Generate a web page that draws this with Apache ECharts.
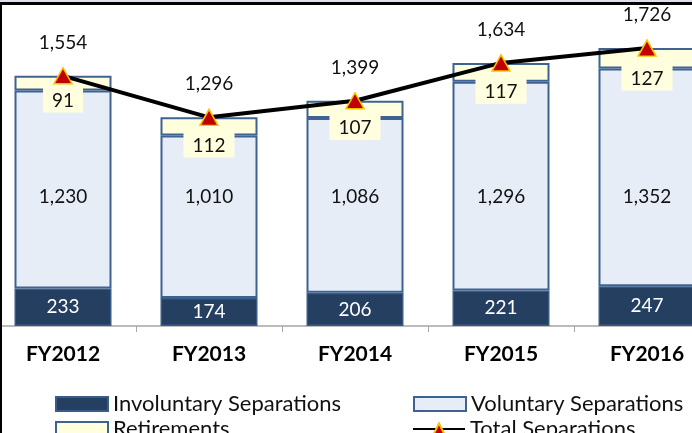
<!DOCTYPE html>
<html>
<head>
<meta charset="utf-8">
<script src="https://cdn.jsdelivr.net/npm/echarts@6/dist/echarts.min.js"></script>
<style>
html,body{margin:0;padding:0;background:#fff;overflow:hidden;width:692px;height:433px;position:relative;}
#c{width:740px;height:433px;position:absolute;left:-10px;top:0;}
</style>
</head>
<body>
<div id="c"></div>
<script>
const categories = ['FY2012', 'FY2013', 'FY2014', 'FY2015', 'FY2016'];
const involuntary = [233, 174, 206, 221, 247];
const voluntary = [1230, 1010, 1086, 1296, 1352];
const retirements = [91, 112, 107, 117, 127];
const totals = [1554, 1296, 1399, 1634, 1726];
const volLabelLevel = 805;

const fmt = v => Number(v).toLocaleString('en-US');
const FONT = 'Lato';
const SHIFT = 10; // container is shifted 10px to the left of the page
const chart = echarts.init(document.getElementById('c'), null, {renderer: 'canvas'});

const legendText = {fontFamily: FONT, fontSize: 22, color: '#111'};
function legendAt(name, x, y, icon) {
  const l = {
    orient: 'horizontal', left: x + SHIFT, top: y, itemWidth: 52, itemHeight: 14,
    textStyle: legendText, data: [name]
  };
  if (icon) l.icon = icon;
  return l;
}

const option = {
  animation: false,
  backgroundColor: '#ffffff',
  textStyle: {fontFamily: FONT},
  graphic: [
    {type: 'rect', shape: {x: SHIFT, y: 0, width: 692, height: 2}, style: {fill: '#dde0e8'}, silent: true, z: 100},
    {type: 'rect', shape: {x: SHIFT, y: 2, width: 692, height: 3}, style: {fill: '#000'}, silent: true, z: 100},
    {type: 'rect', shape: {x: SHIFT, y: 2, width: 2, height: 431}, style: {fill: '#000'}, silent: true, z: 100}
  ],
  grid: {left: 0, right: 10, top: 4, bottom: 107, containLabel: false},
  xAxis: {
    type: 'category',
    data: categories,
    axisLine: {lineStyle: {color: '#a6a6a6', width: 1.5}},
    axisTick: {show: true, length: 6, lineStyle: {color: '#a6a6a6'}},
    axisLabel: {fontFamily: FONT, fontSize: 21, fontWeight: 'bold', color: '#000', margin: 18}
  },
  yAxis: {type: 'value', min: 0, max: 2000, show: false, splitLine: {show: false}},
  legend: [
    legendAt('Involuntary Separations', 50, 388, 'rect'),
    legendAt('Retirements', 50, 413, 'rect'),
    legendAt('Voluntary Separations', 408, 388, 'rect'),
    legendAt('Total Separations', 407, 413)
  ],
  series: [
    {
      id: 'inv', name: 'Involuntary Separations', type: 'bar', stack: 's', barWidth: 97,
      data: involuntary,
      itemStyle: {color: '#243F60', borderColor: '#385D8A', borderWidth: 1.5},
      label: {show: true, position: 'inside', color: '#fff', fontFamily: FONT, fontSize: 19, formatter: p => fmt(p.value)}
    },
    {
      id: 'vol', name: 'Voluntary Separations', type: 'bar', stack: 's', barWidth: 97,
      data: voluntary,
      itemStyle: {color: '#E6EDF7', borderColor: '#3E6391', borderWidth: 2},
      label: {show: true, position: 'inside', color: '#111', fontFamily: FONT, fontSize: 19, formatter: p => fmt(p.value)}
    },
    {
      id: 'ret', name: 'Retirements', type: 'bar', stack: 's', barWidth: 97,
      data: retirements,
      itemStyle: {color: '#FFFFDD', borderColor: '#3E6391', borderWidth: 2},
      label: {
        show: true, position: 'bottom', distance: -3, color: '#111', fontFamily: FONT, fontSize: 19,
        backgroundColor: '#FFFFDF', padding: [3, 9, 2, 9], lineHeight: 20,
        formatter: p => fmt(p.value)
      }
    },
    {
      id: 'tot', name: 'Total Separations', type: 'line', data: totals, z: 5,
      lineStyle: {color: '#000', width: 4},
      itemStyle: {color: '#C00000', borderColor: '#FFC000', borderWidth: 1.5},
      symbol: 'triangle', symbolSize: [18, 16],
      label: {show: true, position: 'top', distance: 15, color: '#111', fontFamily: FONT, fontSize: 19, formatter: p => fmt(p.value)}
    }
  ]
};
chart.setOption(option);

// place voluntary labels at a common level, as in the reference
const offsets = voluntary.map((v, i) => {
  const center = chart.convertToPixel({gridIndex: 0}, [i, involuntary[i] + v / 2])[1];
  const target = chart.convertToPixel({gridIndex: 0}, [i, volLabelLevel])[1];
  return target - center;
});
chart.setOption({
  series: [{id: 'vol', data: voluntary.map((v, i) => ({value: v, label: {offset: [0, offsets[i]]}}))}]
});
</script>
</body>
</html>
